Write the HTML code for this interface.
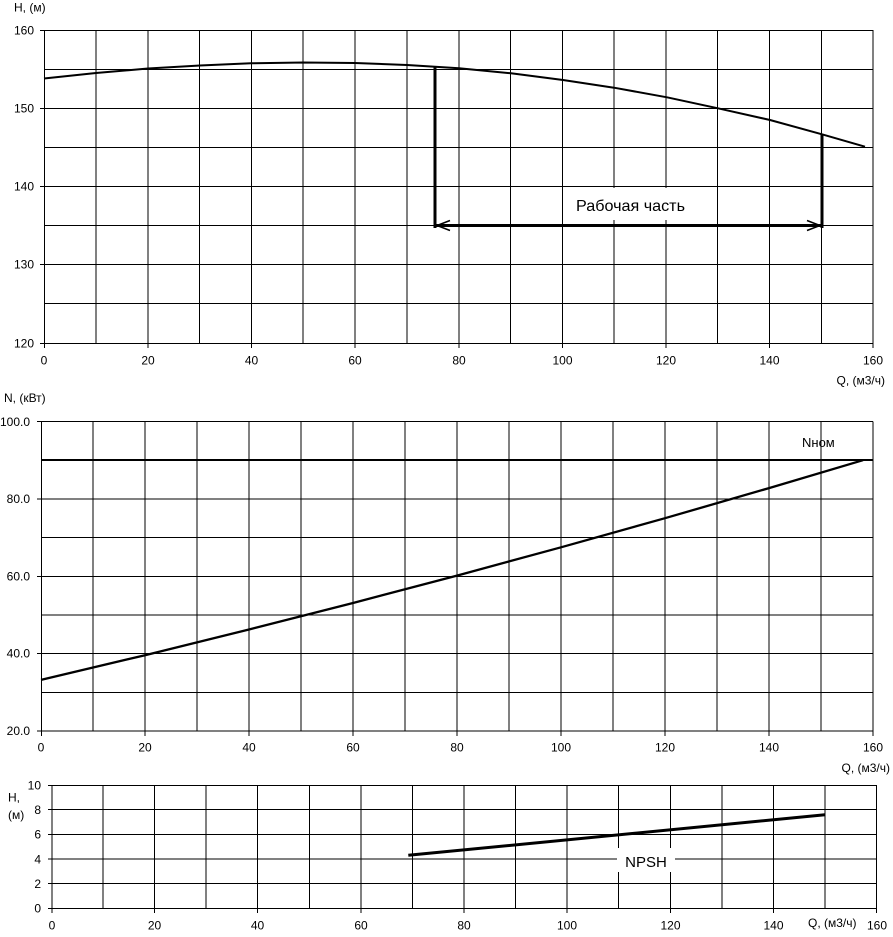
<!DOCTYPE html>
<html>
<head>
<meta charset="utf-8">
<style>
html,body{margin:0;padding:0;background:#fff;}
svg{display:block;}
text{font-family:"Liberation Sans","DejaVu Sans",sans-serif;fill:#000;}
</style>
</head>
<body>
<svg width="893" height="937" viewBox="0 0 893 937" xmlns="http://www.w3.org/2000/svg">
<rect x="0" y="0" width="893" height="937" fill="#fff"/>

<!-- ================= CHART 1 ================= -->
<g stroke="#000" stroke-width="1" fill="none">
  <!-- horizontal grid -->
  <line x1="40" y1="30.5" x2="873" y2="30.5"/>
  <line x1="44" y1="69.5" x2="873" y2="69.5"/>
  <line x1="40" y1="108.5" x2="873" y2="108.5"/>
  <line x1="44" y1="147.5" x2="873" y2="147.5"/>
  <line x1="40" y1="186.5" x2="873" y2="186.5"/>
  <line x1="44" y1="225.5" x2="873" y2="225.5"/>
  <line x1="40" y1="264.5" x2="873" y2="264.5"/>
  <line x1="44" y1="303.5" x2="873" y2="303.5"/>
  <line x1="40" y1="343.5" x2="873" y2="343.5"/>
  <!-- vertical grid -->
  <line x1="44.5" y1="30" x2="44.5" y2="348"/>
  <line x1="96" y1="30" x2="96" y2="343"/>
  <line x1="148" y1="30" x2="148" y2="348"/>
  <line x1="199.5" y1="30" x2="199.5" y2="343"/>
  <line x1="251.5" y1="30" x2="251.5" y2="348"/>
  <line x1="303" y1="30" x2="303" y2="343"/>
  <line x1="355" y1="30" x2="355" y2="348"/>
  <line x1="407" y1="30" x2="407" y2="343"/>
  <line x1="459" y1="30" x2="459" y2="348"/>
  <line x1="510.5" y1="30" x2="510.5" y2="343"/>
  <line x1="562.5" y1="30" x2="562.5" y2="348"/>
  <line x1="614" y1="30" x2="614" y2="343"/>
  <line x1="666" y1="30" x2="666" y2="348"/>
  <line x1="717.5" y1="30" x2="717.5" y2="343"/>
  <line x1="769.5" y1="30" x2="769.5" y2="348"/>
  <line x1="821.5" y1="30" x2="821.5" y2="343"/>
  <line x1="873" y1="30" x2="873" y2="348"/>
</g>
<!-- white box behind label -->
<rect x="569" y="188" width="142" height="32" fill="#fff"/>
<text x="576" y="211" font-size="16" textLength="109" lengthAdjust="spacingAndGlyphs">Рабочая часть</text>

<!-- H curve -->
<polyline fill="none" stroke="#000" stroke-width="2" stroke-linejoin="round"
 points="44,78.5 96,73 148,68.5 200,65.5 251,63.3 303,62.5 355,63 407,65 459,68.3 511,73.3 563,80 614,87.7 667,97.3 718,108.3 770,120 822,134.3 865,146.7"/>
<!-- working range -->
<g stroke="#000" stroke-width="3" fill="none">
  <line x1="435" y1="66" x2="435" y2="228"/>
  <line x1="822" y1="134" x2="822" y2="228"/>
  <line x1="435" y1="225.5" x2="822" y2="225.5"/>
</g>
<g stroke="#000" stroke-width="1.5" fill="none">
  <polyline points="450,220.5 437,225.5 450,230.5"/>
  <polyline points="807,220.5 820,225.5 807,230.5"/>
</g>

<!-- chart1 labels -->
<g font-size="12">
  <text x="14" y="11.5">H, (м)</text>
  <text x="34" y="34.5" text-anchor="end">160</text>
  <text x="34" y="112.5" text-anchor="end">150</text>
  <text x="34" y="190.5" text-anchor="end">140</text>
  <text x="34" y="268.5" text-anchor="end">130</text>
  <text x="34" y="347.5" text-anchor="end">120</text>
  <text x="44" y="364.5" text-anchor="middle">0</text>
  <text x="148" y="364.5" text-anchor="middle">20</text>
  <text x="251.5" y="364.5" text-anchor="middle">40</text>
  <text x="355" y="364.5" text-anchor="middle">60</text>
  <text x="459" y="364.5" text-anchor="middle">80</text>
  <text x="562.5" y="364.5" text-anchor="middle">100</text>
  <text x="666" y="364.5" text-anchor="middle">120</text>
  <text x="769.5" y="364.5" text-anchor="middle">140</text>
  <text x="873" y="364.5" text-anchor="middle">160</text>
  <text x="885" y="384.5" text-anchor="end">Q, (м3/ч)</text>
</g>

<!-- ================= CHART 2 ================= -->
<g stroke="#000" stroke-width="1" fill="none">
  <line x1="37" y1="421.5" x2="873" y2="421.5"/>
  <line x1="41" y1="460.5" x2="873" y2="460.5"/>
  <line x1="37" y1="499" x2="873" y2="499"/>
  <line x1="41" y1="537.5" x2="873" y2="537.5"/>
  <line x1="37" y1="576.5" x2="873" y2="576.5"/>
  <line x1="41" y1="615" x2="873" y2="615"/>
  <line x1="37" y1="653.5" x2="873" y2="653.5"/>
  <line x1="41" y1="692.5" x2="873" y2="692.5"/>
  <line x1="37" y1="731" x2="873" y2="731"/>

  <line x1="41.5" y1="421.5" x2="41.5" y2="736"/>
  <line x1="93" y1="421.5" x2="93" y2="731"/>
  <line x1="145" y1="421.5" x2="145" y2="736"/>
  <line x1="197" y1="421.5" x2="197" y2="731"/>
  <line x1="249" y1="421.5" x2="249" y2="736"/>
  <line x1="301" y1="421.5" x2="301" y2="731"/>
  <line x1="353" y1="421.5" x2="353" y2="736"/>
  <line x1="405" y1="421.5" x2="405" y2="731"/>
  <line x1="457" y1="421.5" x2="457" y2="736"/>
  <line x1="509" y1="421.5" x2="509" y2="731"/>
  <line x1="561" y1="421.5" x2="561" y2="736"/>
  <line x1="613" y1="421.5" x2="613" y2="731"/>
  <line x1="665" y1="421.5" x2="665" y2="736"/>
  <line x1="717" y1="421.5" x2="717" y2="731"/>
  <line x1="769" y1="421.5" x2="769" y2="736"/>
  <line x1="821" y1="421.5" x2="821" y2="731"/>
  <line x1="873" y1="421.5" x2="873" y2="736"/>
</g>
<!-- Nnom line -->
<line x1="41" y1="460" x2="873" y2="460" stroke="#000" stroke-width="2"/>
<text x="802" y="447" font-size="13">Nном</text>
<!-- N curve -->
<polyline fill="none" stroke="#000" stroke-width="2.3" stroke-linejoin="round"
 points="41,679.9 145,655.2 249,629.5 353,603 457,575.6 561,547.3 665,518.2 769,488.1 863,460.2"/>

<g font-size="12">
  <text x="4" y="402">N, (кВт)</text>
  <text x="30" y="426" text-anchor="end">100.0</text>
  <text x="30" y="503" text-anchor="end">80.0</text>
  <text x="30" y="580.5" text-anchor="end">60.0</text>
  <text x="30" y="657.5" text-anchor="end">40.0</text>
  <text x="30" y="735" text-anchor="end">20.0</text>
  <text x="41" y="751.5" text-anchor="middle">0</text>
  <text x="145" y="751.5" text-anchor="middle">20</text>
  <text x="249" y="751.5" text-anchor="middle">40</text>
  <text x="353" y="751.5" text-anchor="middle">60</text>
  <text x="457" y="751.5" text-anchor="middle">80</text>
  <text x="561" y="751.5" text-anchor="middle">100</text>
  <text x="665" y="751.5" text-anchor="middle">120</text>
  <text x="769" y="751.5" text-anchor="middle">140</text>
  <text x="873" y="751.5" text-anchor="middle">160</text>
  <text x="890" y="772" text-anchor="end">Q, (м3/ч)</text>
</g>

<!-- ================= CHART 3 ================= -->
<g stroke="#000" stroke-width="1" fill="none">
  <line x1="48" y1="785.5" x2="876.5" y2="785.5"/>
  <line x1="48" y1="809.5" x2="876.5" y2="809.5"/>
  <line x1="48" y1="834.5" x2="876.5" y2="834.5"/>
  <line x1="48" y1="859" x2="876.5" y2="859"/>
  <line x1="48" y1="883.5" x2="876.5" y2="883.5"/>
  <line x1="48" y1="908.5" x2="876.5" y2="908.5"/>

  <line x1="52" y1="785" x2="52" y2="913"/>
  <line x1="103" y1="785" x2="103" y2="908"/>
  <line x1="154.5" y1="785" x2="154.5" y2="913"/>
  <line x1="206" y1="785" x2="206" y2="908"/>
  <line x1="257.5" y1="785" x2="257.5" y2="913"/>
  <line x1="309.5" y1="785" x2="309.5" y2="908"/>
  <line x1="361" y1="785" x2="361" y2="913"/>
  <line x1="412.5" y1="785" x2="412.5" y2="908"/>
  <line x1="464" y1="785" x2="464" y2="913"/>
  <line x1="515.5" y1="785" x2="515.5" y2="908"/>
  <line x1="567" y1="785" x2="567" y2="913"/>
  <line x1="618.5" y1="785" x2="618.5" y2="908"/>
  <line x1="670.5" y1="785" x2="670.5" y2="913"/>
  <line x1="722" y1="785" x2="722" y2="908"/>
  <line x1="773.5" y1="785" x2="773.5" y2="913"/>
  <line x1="825" y1="785" x2="825" y2="908"/>
  <line x1="876.5" y1="785" x2="876.5" y2="913"/>
</g>
<rect x="617" y="848" width="58" height="24" fill="#fff"/>
<text x="646" y="867" font-size="15" text-anchor="middle">NPSH</text>
<line x1="408.3" y1="855.3" x2="825" y2="814.7" stroke="#000" stroke-width="3"/>

<g font-size="12">
  <text x="8" y="801.5">H,</text>
  <text x="8" y="819">(м)</text>
  <text x="41" y="789.5" text-anchor="end">10</text>
  <text x="41" y="814" text-anchor="end">8</text>
  <text x="41" y="838.5" text-anchor="end">6</text>
  <text x="41" y="863.5" text-anchor="end">4</text>
  <text x="41" y="888" text-anchor="end">2</text>
  <text x="41" y="912.5" text-anchor="end">0</text>
  <text x="52" y="929.5" text-anchor="middle">0</text>
  <text x="154.5" y="929.5" text-anchor="middle">20</text>
  <text x="257.5" y="929.5" text-anchor="middle">40</text>
  <text x="361" y="929.5" text-anchor="middle">60</text>
  <text x="464" y="929.5" text-anchor="middle">80</text>
  <text x="567" y="929.5" text-anchor="middle">100</text>
  <text x="670.5" y="929.5" text-anchor="middle">120</text>
  <text x="773.5" y="929.5" text-anchor="middle">140</text>
  <text x="808" y="927">Q, (м3/ч)</text>
  <text x="877" y="929.5" text-anchor="middle">160</text>
</g>
</svg>
</body>
</html>
